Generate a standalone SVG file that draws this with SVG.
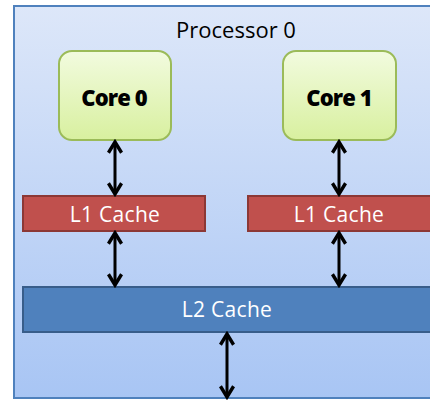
<svg xmlns="http://www.w3.org/2000/svg" width="430" height="400" viewBox="0 0 430 400">
<defs>
<linearGradient id="bg" x1="0" y1="0" x2="0" y2="1">
<stop offset="0" stop-color="#dde7f9"/>
<stop offset="1" stop-color="#a8c5f4"/>
</linearGradient>
<linearGradient id="core" x1="0" y1="0" x2="0" y2="1">
<stop offset="0" stop-color="#f2fbdf"/>
<stop offset="1" stop-color="#d8f09f"/>
</linearGradient>
<marker id="ah" viewBox="0 0 10 10" refX="8" refY="5" markerWidth="5.5" markerHeight="5.5" orient="auto-start-reverse" markerUnits="strokeWidth">
<polyline points="1.5,1 8,5 1.5,9" fill="none" stroke="#000" stroke-width="2.1" stroke-linejoin="miter"/>
</marker>
</defs>
<style>
.core rect{fill:url(#core);stroke:#9bbb59;stroke-width:2}
.core text{font-family:"Open Sans","Liberation Sans",sans-serif;font-weight:800;font-size:22px;fill:#000;text-anchor:middle;letter-spacing:-0.9px}
.l1 rect{fill:#c0504d;stroke:#8c3836;stroke-width:2}
.l2 rect{fill:#4f81bd;stroke:#385d8a;stroke-width:2}
.l1 text,.l2 text{font-family:"Open Sans","Liberation Sans",sans-serif;font-size:21px;fill:#fff;text-anchor:middle;letter-spacing:0.3px}
.conn line{stroke:#000;stroke-width:3;marker-start:url(#ah);marker-end:url(#ah)}
</style>
<g id="processor">
<rect x="14" y="6" width="430" height="392" fill="url(#bg)" stroke="#4f81bd" stroke-width="2"/>
<text x="236" y="38" font-family="'Open Sans','Liberation Sans',sans-serif" font-size="22" font-weight="500" text-anchor="middle" fill="#000">Processor 0</text>
</g>
<g id="core0" class="core">
<rect x="59" y="51" width="112" height="89" rx="13"/>
<text x="114" y="106">Core 0</text>
</g>
<g id="core1" class="core">
<rect x="283" y="51" width="113" height="89" rx="13"/>
<text x="339" y="106">Core 1</text>
</g>
<g id="l1a" class="l1">
<rect x="23" y="196" width="182" height="35"/>
<text x="115" y="222">L1 Cache</text>
</g>
<g id="l1b" class="l1">
<rect x="248" y="196" width="190" height="35"/>
<text x="339" y="222">L1 Cache</text>
</g>
<g id="l2" class="l2">
<rect x="23" y="287" width="415" height="45"/>
<text x="227" y="317">L2 Cache</text>
</g>
<g id="connectors" class="conn">
<line x1="115" y1="142" x2="115" y2="194"/>
<line x1="339" y1="142" x2="339" y2="194"/>
<line x1="115" y1="233" x2="115" y2="285"/>
<line x1="339" y1="233" x2="339" y2="285"/>
<line x1="227" y1="334" x2="227" y2="397"/>
</g>
</svg>
